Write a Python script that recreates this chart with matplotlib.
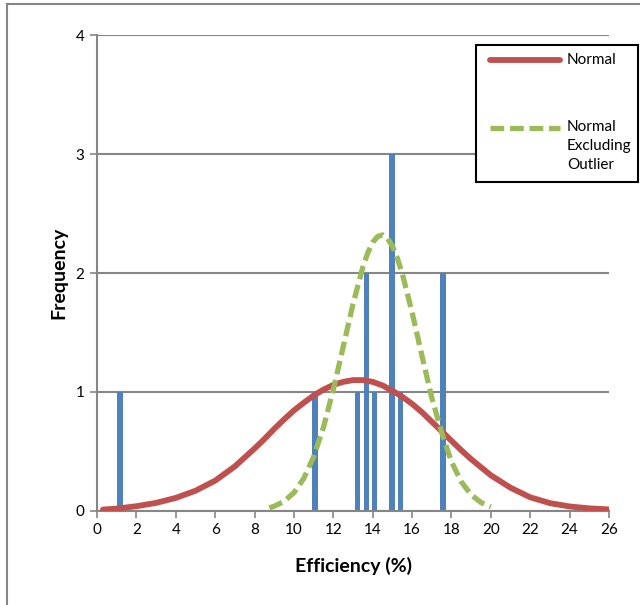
#!/usr/bin/env python3

import matplotlib.pyplot as plt
from matplotlib.lines import Line2D
from matplotlib.patches import Rectangle

# histogram of measured efficiencies
bar_x = [1.17, 11.07, 13.24, 13.70, 14.10, 14.98, 15.42, 17.57]
bar_freq = [1, 1, 1, 2, 1, 3, 1, 2]

# normal curve (all samples)
normal_x = [0.3, 1, 2, 3, 4, 5, 6, 7, 8, 8.5, 9, 9.5, 10, 10.5, 11, 11.5,
            12, 12.5, 13, 13.5, 14, 14.5, 15, 15.5, 16, 16.5, 17, 17.5,
            18, 18.5, 19, 20, 21, 22, 23, 24, 25, 26]
normal_y = [0.012, 0.02, 0.04, 0.068, 0.11, 0.17, 0.255, 0.375, 0.525,
            0.605, 0.69, 0.77, 0.845, 0.91, 0.97, 1.02, 1.06, 1.085, 1.10,
            1.10, 1.085, 1.055, 1.01, 0.96, 0.90, 0.83, 0.75, 0.67, 0.59,
            0.51, 0.435, 0.30, 0.195, 0.115, 0.066, 0.038, 0.022, 0.013]

# normal curve excluding the outlier
excl_x = [8.75, 9.0, 9.5, 10.0, 10.5, 11.0, 11.5, 12.0, 12.5, 13.0, 13.5,
          13.75, 14.0, 14.25, 14.5, 14.75, 15.0, 15.25, 15.5, 16.0, 16.5,
          17.0, 17.5, 18.0, 18.5, 19.0, 19.5, 20.0]
excl_y = [0.027, 0.04, 0.081, 0.154, 0.274, 0.455, 0.704, 1.02, 1.378,
          1.74, 2.05, 2.17, 2.257, 2.307, 2.32, 2.29, 2.226, 2.125, 1.995,
          1.669, 1.305, 0.952, 0.66, 0.413, 0.245, 0.136, 0.071, 0.034]

x_ticks = list(range(0, 27, 2))
y_ticks = [0, 1, 2, 3, 4]

BLUE = '#4F81BD'
RED = '#C0504D'
GREEN = '#9BBB59'
GRAY = '#868686'

plt.rcParams['font.family'] = ['Lato', 'DejaVu Sans']

fig = plt.figure(figsize=(6.4, 6.05), dpi=100)
ax = fig.add_axes([0.1516, 0.1554, 0.8, 0.7867])

# bars
ax.bar(bar_x, bar_freq, width=0.27, color=BLUE, zorder=2)

# curves
ax.plot(normal_x, normal_y, color=RED, lw=4.2, solid_capstyle='round',
        solid_joinstyle='round', zorder=3)
ax.plot(excl_x, excl_y, color=GREEN, lw=3.8, dashes=(2.6, 1.1),
        dash_capstyle='butt', dash_joinstyle='round', zorder=4)

# limits and ticks
ax.set_xlim(0, 26)
ax.set_ylim(0, 4)
ax.set_xticks(x_ticks)
ax.set_yticks(y_ticks)
ax.tick_params(axis='both', direction='out', length=5, width=1.2,
               color=GRAY, labelsize=11, pad=4)

# grid
ax.yaxis.grid(True, color=GRAY, lw=1.5)
ax.set_axisbelow(True)

# spines
for side in ['top', 'right']:
    ax.spines[side].set_visible(False)
for side in ['left', 'bottom']:
    ax.spines[side].set_color(GRAY)
    ax.spines[side].set_linewidth(1.5)

# labels
ax.set_xlabel('Efficiency (%)', fontsize=14, fontweight='bold', labelpad=14)
ax.set_ylabel('Frequency', fontsize=14, fontweight='bold', labelpad=6)

# outer chart border
fig.add_artist(Line2D([7 / 640, 7 / 640], [0, 1 - 4 / 605],
                      transform=fig.transFigure, color=GRAY, lw=1.5))
fig.add_artist(Line2D([7 / 640, 1], [1 - 4 / 605, 1 - 4 / 605],
                      transform=fig.transFigure, color=GRAY, lw=1.5))

# legend box
fig.add_artist(Rectangle((476 / 640, 1 - 182 / 605), 162 / 640, 137 / 605,
                         transform=fig.transFigure, facecolor='white',
                         edgecolor='black', lw=1.5, zorder=5))
fig.add_artist(Line2D([490 / 640, 560 / 640], [1 - 60 / 605, 1 - 60 / 605],
                      transform=fig.transFigure, color=RED, lw=4.2,
                      solid_capstyle='round', zorder=6))
fig.add_artist(Line2D([490 / 640, 560 / 640], [1 - 128 / 605, 1 - 128 / 605],
                      transform=fig.transFigure, color=GREEN, lw=3.8,
                      dashes=(2.6, 1.1), dash_capstyle='butt', zorder=6))
fig.text(567 / 640, 1 - 60 / 605, 'Normal', fontsize=11, va='center',
         zorder=7)
fig.text(567 / 640, 1 - 120 / 605, 'Normal\nExcluding\nOutlier', fontsize=11,
         va='top', linespacing=1.45, zorder=7)

plt.savefig('out.png', dpi=100)
